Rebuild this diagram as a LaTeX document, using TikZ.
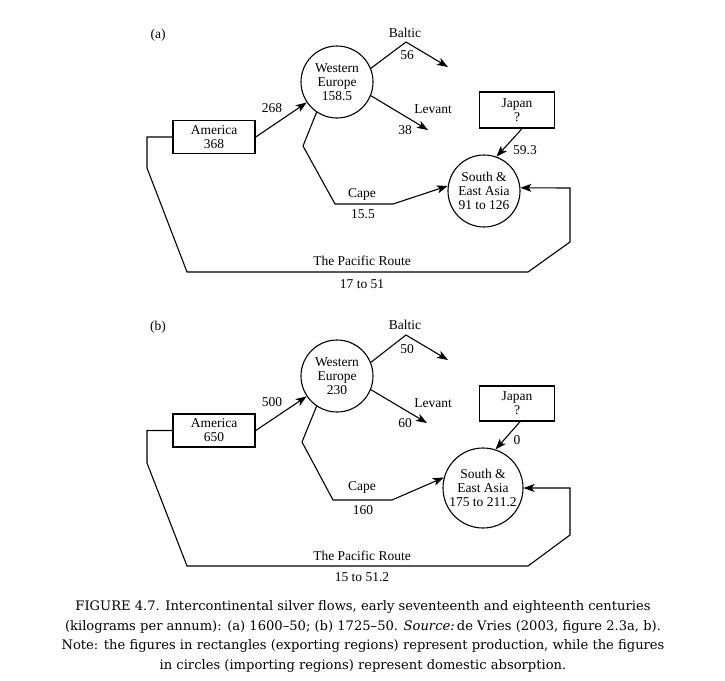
\documentclass[tikz,border=0pt]{standalone}
\usepackage{fontspec}
\setmainfont{Liberation Serif}
\newfontfamily\capfont{DejaVu Serif}
\usetikzlibrary{arrows.meta,calc}
\begin{document}
\begin{tikzpicture}[x=1pt,y=-1pt,
  lbl/.style={font=\fontsize{13.5}{14}\selectfont, inner sep=0pt},
  reg/.style={circle, draw, line width=1.1pt, inner sep=0pt, align=center, font=\fontsize{13.5}{14}\selectfont},
  expbox/.style={rectangle, draw, line width=1.5pt, inner sep=0pt, align=center, font=\fontsize{13.5}{14}\selectfont},
  flow/.style={line width=1.1pt, line join=miter, -{Stealth[length=11pt,width=8pt,inset=2.8pt]}},
]
\useasboundingbox (0,0) rectangle (725,680);

% ---------------- panel (a)
\node[lbl] (pa) at (158,35) {(a)};
\node[reg, minimum size=72pt] (WEa) at (337,82) {Western\\Europe\\158.5};
\node[reg, minimum size=72pt] (SEa) at (484,191) {South \&\\East Asia\\91 to 126};
\node[expbox, minimum width=82pt, minimum height=33pt] (AMa) at (214,137) {America\\368};
\node[expbox, minimum width=75pt, minimum height=36pt] (JPa) at (517,110) {Japan\\?};

\coordinate (BPa) at (406,42);
\coordinate (BTa) at (448,67);
\coordinate (LTa) at (428,130);
\coordinate (C1a) at (303,146);
\coordinate (C2a) at (335,204);
\coordinate (C3a) at (393,204);
\coordinate (P1a) at (147,137);
\coordinate (P2a) at (147,168);
\coordinate (P3a) at (187,272);
\coordinate (P4a) at (528,272);
\coordinate (P5a) at (570,242);
\coordinate (P6a) at (570,188);

\draw[flow] (AMa.east) -- (WEa);
\draw[flow] (WEa.22) -- (BPa) -- (BTa);
\draw[flow] (WEa.-22) -- (LTa);
\draw[flow] (WEa.-124) -- (C1a) -- (C2a) -- (C3a) -- (SEa.172);
\draw[flow] (AMa.west) -- (P1a) -- (P2a) -- (P3a) -- (P4a) -- (P5a) -- (P6a) -- (SEa.5);
\draw[flow] ($(JPa.south)+(5,0)$) -- (SEa.70);

\node[lbl] (bala) at (405,33) {Baltic};
\node[lbl] (n56) at (407,55) {56};
\node[lbl] (leva) at (433,109) {Levant};
\node[lbl] (n38) at (405,130) {38};
\node[lbl] (n268) at (272,108) {268};
\node[lbl] (n593) at (525,150) {59.3};
\node[lbl] (capea) at (362,194) {Cape};
\node[lbl] (n155) at (363,214) {15.5};
\node[lbl] (pra) at (362,261) {The Pacific Route};
\node[lbl] (n1751) at (362,284) {17 to 51};

% ---------------- panel (b)
\node[lbl] (pb) at (158,327) {(b)};
\node[reg, minimum size=72pt] (WEb) at (337,376) {Western\\Europe\\230};
\node[reg, minimum size=80pt] (SEb) at (483,488) {South \&\\East Asia\\175 to 211.2};
\node[expbox, minimum width=82pt, minimum height=33pt] (AMb) at (214,430.5) {America\\650};
\node[expbox, minimum width=75pt, minimum height=35pt] (JPb) at (517,403.5) {Japan\\?};

\coordinate (BPb) at (406,335);
\coordinate (BTb) at (448,360);
\coordinate (LTb) at (427,423);
\coordinate (C1b) at (302,442);
\coordinate (C2b) at (333,500);
\coordinate (C3b) at (392,500);
\coordinate (P1b) at (147,430.5);
\coordinate (P2b) at (147,463);
\coordinate (P3b) at (187,566);
\coordinate (P4b) at (528,566);
\coordinate (P5b) at (570,535);
\coordinate (P6b) at (570,488);

\draw[flow] (AMb.east) -- (WEb);
\draw[flow] (WEb.22) -- (BPb) -- (BTb);
\draw[flow] (WEb.-22) -- (LTb);
\draw[flow] (WEb.-124) -- (C1b) -- (C2b) -- (C3b) -- (SEb.165);
\draw[flow] (AMb.west) -- (P1b) -- (P2b) -- (P3b) -- (P4b) -- (P5b) -- (P6b) -- (SEb.0);
\draw[flow] ($(JPb.south)+(3,0)$) -- (SEb.72);

\node[lbl] (balb) at (405,325) {Baltic};
\node[lbl] (n50) at (407,349) {50};
\node[lbl] (levb) at (433,403) {Levant};
\node[lbl] (n60) at (405,423) {60};
\node[lbl] (n500) at (272,402) {500};
\node[lbl] (n0) at (517,440) {0};
\node[lbl] (capeb) at (362,487) {Cape};
\node[lbl] (n160) at (363,510) {160};
\node[lbl] (prb) at (362,556) {The Pacific Route};
\node[lbl] (n1551) at (362,577) {15 to 51.2};

% ---------------- caption
\node[font=\capfont\fontsize{13.1}{19.7}\selectfont, align=center, inner sep=0pt] (cap) at (363,636.5)
 {FIGURE 4.7. Intercontinental silver flows, early seventeenth and eighteenth centuries\\
  (kilograms per annum): (a) 1600–50; (b) 1725–50. {\itshape Source:}\,de Vries (2003, figure 2.3a, b).\\
  Note: the figures in rectangles (exporting regions) represent production, while the figures\\
  in circles (importing regions) represent domestic absorption.};
\end{tikzpicture}
\end{document}
